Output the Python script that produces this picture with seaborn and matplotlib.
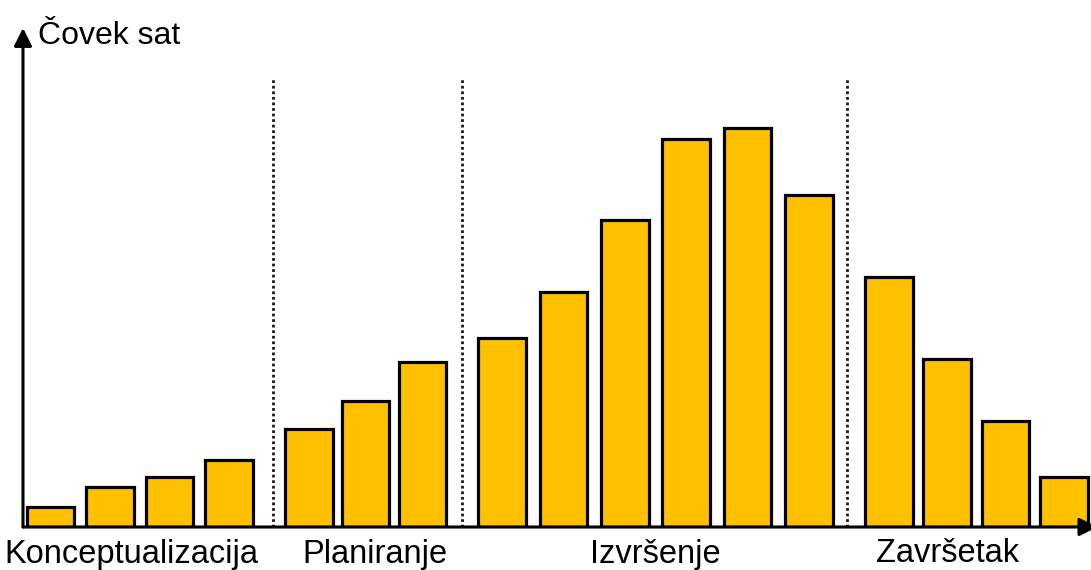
import numpy as np
import matplotlib
matplotlib.use("Agg")
import matplotlib.pyplot as plt
import seaborn as sns

# Effort per period, grouped by project phase
phases = ["Konceptualizacija", "Planiranje", "Izvršenje", "Završetak"]
phase_of_bar = [0, 0, 0, 0, 1, 1, 1, 2, 2, 2, 2, 2, 2, 3, 3, 3, 3]
effort = [20, 40, 50, 67, 98, 126, 165, 189, 235, 307, 388, 399, 332, 250, 168, 106, 50]
y_label = "Čovek sat"

sns.set_theme(style="white")
plt.rcParams["font.family"] = ["Liberation Sans", "DejaVu Sans"]

# Bar layout: slot spacing within each phase, wider gap between phases
phase_step = [1.0, 0.95, 1.03, 0.98]
PHASE_GAP = 1.34
phase_idx = np.array(phase_of_bar)
positions = [0.0]
for k in range(1, len(effort)):
    p = phase_idx[k]
    step = PHASE_GAP if p != phase_idx[k - 1] else phase_step[p]
    positions.append(positions[-1] + step)
positions = np.round(np.array(positions), 3)

W, H, DPI = 1091, 570, 100
fig = plt.figure(figsize=(W / DPI, H / DPI), dpi=DPI)
ax = fig.add_axes([23 / W, 43 / H, (W - 23) / W, 527 / H])

sns.barplot(x=positions, y=effort, native_scale=True, color="#FFC000",
            saturation=1, edgecolor="black", linewidth=2.3, width=0.84, ax=ax)

unit = 59.58  # pixels per slot
ax.set_xlim(-27.5 / unit, (W - 50.5) / unit)
ax.set_ylim(0, 527)
ax.set_xticks([])
ax.set_yticks([])
ax.set_xlabel("")
ax.set_ylabel("")
for s in ax.spines.values():
    s.set_visible(False)

# Axes drawn as arrows
arrow = dict(arrowstyle="-|>,head_length=0.9,head_width=0.45",
             color="black", lw=2.2, shrinkA=0, shrinkB=0)
ax.annotate("", xy=(0, 499 / 527), xytext=(0, 0), xycoords="axes fraction",
            arrowprops=arrow, annotation_clip=False)
ax.annotate("", xy=(1.006, 0), xytext=(0, 0), xycoords="axes fraction",
            arrowprops=arrow, annotation_clip=False)

# Dotted separators between phases
sep_shift = [0.06, 0.0, -0.03]
for p in range(1, len(phases)):
    last = positions[phase_idx == p - 1].max()
    first = positions[phase_idx == p].min()
    xs = (last + first) / 2 + sep_shift[p - 1]
    ax.plot([xs, xs], [0, 448], color="#1a1a1a",
            lw=2.0, linestyle=(0, (1, 1)), solid_capstyle="butt", clip_on=False)

# Phase names under the axis
label_shift = [-0.15, 0.16, 0.0, -0.48]
trans = matplotlib.transforms.blended_transform_factory(ax.transData, fig.transFigure)
for p, name in enumerate(phases):
    centre = positions[phase_idx == p].mean() + label_shift[p]
    ax.text(centre, 1 - 554 / H, name, transform=trans, ha="center",
            va="center", fontsize=23.5, color="black")

fig.text(38 / W, 1 - 36 / H, y_label, ha="left", va="center",
         fontsize=23, color="black")

fig.savefig("out.png", dpi=DPI)
